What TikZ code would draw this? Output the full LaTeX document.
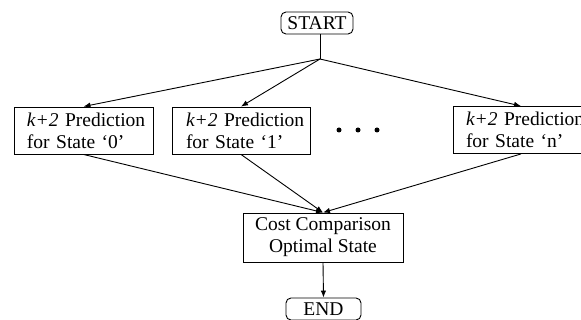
\documentclass[tikz,border=0pt]{standalone}
\usepackage{fontspec}
\setmainfont{Liberation Serif}
\usetikzlibrary{arrows.meta}
\begin{document}
\begin{tikzpicture}[x=1pt,y=-1pt,
  every node/.style={font=\fontsize{19.5}{22}\selectfont},
  line/.style={line width=0.9pt,draw=black},
  arr/.style={line, -{Latex[length=7pt,width=5.5pt]}},
  predbox/.style={draw, line width=0.9pt, rectangle, align=left, minimum height=47pt, inner ysep=0pt},
  term/.style={draw, line width=0.9pt, rounded corners=5pt, minimum height=22pt, inner sep=0pt}
]
\path[use as bounding box, clip] (0,0) rectangle (581,320);
\node[term, minimum width=72pt] (start) at (317,23) {START};
\coordinate (j) at (320,59);
\node[predbox, text width=113pt, inner xsep=13pt] (b0) at (83.5,130.5) {\mbox{\textit{k+2} Prediction}\\\mbox{for State ‘0’}};
\node[predbox, text width=110pt, inner xsep=14pt] (b1) at (241,130.5) {\mbox{\textit{k+2} Prediction}\\\mbox{for State ‘1’}};
\node[predbox, text width=110pt, inner xsep=13pt] (bn) at (521,130) {\mbox{\textit{k+2} Prediction}\\\mbox{for State ‘n’}};
\node[draw, line width=0.9pt, align=center, minimum width=160pt, minimum height=49pt, inner sep=0pt] (cost) at (323,237.5) {Cost Comparison\\Optimal State};
\node[term, minimum width=75pt] (end) at (323.5,309) {END};
\fill (339,130) circle (2.5pt) (358,130) circle (2.5pt) (377,130) circle (2.5pt);
\draw[line] (start.south -| j) -- (j);
\draw[arr] (j) -- (b0.north);
\draw[arr] (j) -- (b1.north);
\draw[arr] (j) -- (bn.north);
\draw[arr] (b0.south) -- (cost.north);
\draw[arr] (b1.south) -- (cost.north);
\draw[arr] (bn.south) -- (cost.north);
\draw[arr] (cost.south) -- (end.north);
\end{tikzpicture}
\end{document}
